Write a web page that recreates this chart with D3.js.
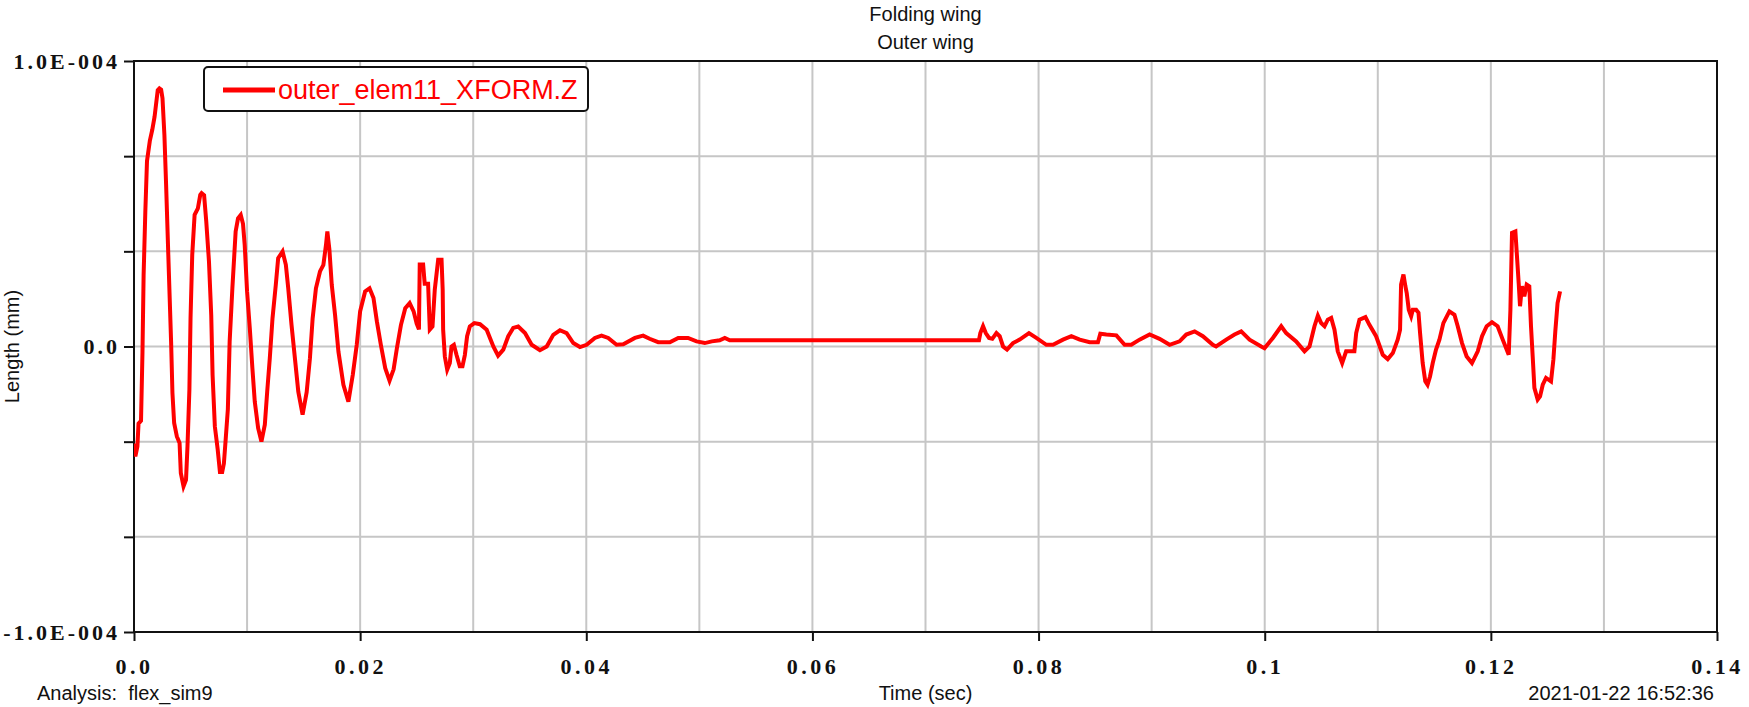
<!DOCTYPE html>
<html>
<head>
<meta charset="utf-8">
<script src="https://cdn.jsdelivr.net/npm/d3@7"></script>
<style>
  html, body { margin: 0; padding: 0; background: #ffffff; }
  svg { display: block; }
</style>
</head>
<body>
<svg id="chart" width="1749" height="707"></svg>
<script>
// ---- data (time in seconds, displacement in mm) ----
const seriesName = "outer_elem11_XFORM.Z";
const time = [
  0.00000, 0.00012, 0.00030, 0.00040, 0.00062, 0.00075, 0.00085, 0.00100, 0.00115, 0.00140,
  0.00162, 0.00182, 0.00210, 0.00225, 0.00240, 0.00252, 0.00269, 0.00284, 0.00308, 0.00328,
  0.00340, 0.00355, 0.00379, 0.00403, 0.00414, 0.00438, 0.00460, 0.00473, 0.00490, 0.00500,
  0.00515, 0.00536, 0.00565, 0.00586, 0.00598, 0.00620, 0.00639, 0.00663, 0.00683, 0.00695,
  0.00715, 0.00740, 0.00760, 0.00780, 0.00795, 0.00810, 0.00830, 0.00846, 0.00870, 0.00899,
  0.00920, 0.00944, 0.00964, 0.00979, 0.01000, 0.01024, 0.01047, 0.01068, 0.01098, 0.01127,
  0.01157, 0.01178, 0.01201, 0.01225, 0.01254, 0.01275, 0.01314, 0.01343, 0.01364, 0.01393,
  0.01423, 0.01453, 0.01491, 0.01527, 0.01556, 0.01580, 0.01609, 0.01645, 0.01675, 0.01698,
  0.01710, 0.01728, 0.01749, 0.01778, 0.01808, 0.01852, 0.01896, 0.01935, 0.01970, 0.02000,
  0.02044, 0.02083, 0.02118, 0.02148, 0.02183, 0.02222, 0.02260, 0.02296, 0.02325, 0.02361,
  0.02399, 0.02438, 0.02473, 0.02500, 0.02520, 0.02527, 0.02557, 0.02571, 0.02601, 0.02616,
  0.02640, 0.02660, 0.02690, 0.02720, 0.02730, 0.02734, 0.02749, 0.02770, 0.02793, 0.02808,
  0.02829, 0.02852, 0.02881, 0.02905, 0.02926, 0.02946, 0.02970, 0.03010, 0.03060, 0.03119,
  0.03178, 0.03220, 0.03266, 0.03310, 0.03354, 0.03398, 0.03458, 0.03517, 0.03590, 0.03650,
  0.03708, 0.03767, 0.03826, 0.03885, 0.03944, 0.04003, 0.04076, 0.04135, 0.04194, 0.04268,
  0.04327, 0.04430, 0.04503, 0.04560, 0.04636, 0.04739, 0.04813, 0.04900, 0.04975, 0.05048,
  0.05110, 0.05180, 0.05225, 0.05269, 0.07473, 0.07485, 0.07509, 0.07533, 0.07562, 0.07591,
  0.07627, 0.07656, 0.07686, 0.07721, 0.07774, 0.07833, 0.07915, 0.07980, 0.08069, 0.08128,
  0.08216, 0.08290, 0.08364, 0.08452, 0.08525, 0.08546, 0.08599, 0.08688, 0.08761, 0.08820,
  0.08893, 0.08982, 0.09070, 0.09159, 0.09247, 0.09306, 0.09380, 0.09453, 0.09541, 0.09570,
  0.09660, 0.09733, 0.09792, 0.09866, 0.09969, 0.09998, 0.10072, 0.10146, 0.10190, 0.10278,
  0.10352, 0.10396, 0.10440, 0.10470, 0.10499, 0.10529, 0.10558, 0.10588, 0.10617, 0.10646,
  0.10685, 0.10720, 0.10793, 0.10809, 0.10838, 0.10891, 0.10926, 0.10985, 0.11044, 0.11088,
  0.11133, 0.11176, 0.11197, 0.11206, 0.11227, 0.11244, 0.11256, 0.11274, 0.11295, 0.11310,
  0.11339, 0.11360, 0.11374, 0.11397, 0.11420, 0.11440, 0.11462, 0.11486, 0.11515, 0.11545,
  0.11580, 0.11633, 0.11678, 0.11707, 0.11745, 0.11786, 0.11833, 0.11884, 0.11922, 0.11963,
  0.12010, 0.12060, 0.12105, 0.12158, 0.12173, 0.12187, 0.12217, 0.12230, 0.12246, 0.12258,
  0.12275, 0.12296, 0.12317, 0.12340, 0.12355, 0.12370, 0.12385, 0.12414, 0.12435, 0.12459,
  0.12488, 0.12532, 0.12553, 0.12570, 0.12590, 0.12612
];
const displacement = [
  -3.40e-5, -3.85e-5, -3.50e-5, -2.70e-5, -2.60e-5, -0.20e-5, 2.50e-5, 4.70e-5, 6.50e-5, 7.20e-5,
  7.60e-5, 8.05e-5, 8.98e-5, 9.04e-5, 9.00e-5, 8.70e-5, 7.40e-5, 5.66e-5, 2.63e-5, 0.18e-5,
  -1.63e-5, -2.68e-5, -3.15e-5, -3.38e-5, -4.43e-5, -4.90e-5, -4.67e-5, -3.50e-5, -1.50e-5, 0.99e-5,
  3.21e-5, 4.61e-5, 4.84e-5, 5.31e-5, 5.37e-5, 5.30e-5, 4.38e-5, 2.98e-5, 1.11e-5, -1.00e-5,
  -2.80e-5, -3.60e-5, -4.40e-5, -4.40e-5, -4.10e-5, -3.30e-5, -2.20e-5, 0.18e-5, 2.04e-5, 4.03e-5,
  4.49e-5, 4.61e-5, 4.30e-5, 3.56e-5, 1.93e-5, 0.64e-5, -0.76e-5, -1.93e-5, -2.86e-5, -3.33e-5,
  -2.74e-5, -1.58e-5, -0.41e-5, 0.99e-5, 2.16e-5, 3.09e-5, 3.33e-5, 2.86e-5, 2.04e-5, 0.76e-5,
  -0.41e-5, -1.58e-5, -2.39e-5, -1.60e-5, -0.41e-5, 0.99e-5, 2.04e-5, 2.63e-5, 2.86e-5, 3.56e-5,
  4.03e-5, 3.40e-5, 2.16e-5, 1.11e-5, -0.18e-5, -1.34e-5, -1.93e-5, -0.99e-5, 0.06e-5, 1.23e-5,
  1.93e-5, 2.04e-5, 1.70e-5, 0.88e-5, 0.06e-5, -0.76e-5, -1.20e-5, -0.80e-5, -0.06e-5, 0.76e-5,
  1.34e-5, 1.52e-5, 1.23e-5, 0.80e-5, 0.60e-5, 2.87e-5, 2.87e-5, 2.20e-5, 2.20e-5, 0.59e-5,
  0.70e-5, 1.99e-5, 3.04e-5, 3.04e-5, 1.99e-5, 0.59e-5, -0.35e-5, -0.81e-5, -0.58e-5, 0.00e-5,
  0.06e-5, -0.29e-5, -0.69e-5, -0.69e-5, -0.30e-5, 0.36e-5, 0.70e-5, 0.82e-5, 0.78e-5, 0.59e-5,
  0.00e-5, -0.32e-5, -0.11e-5, 0.36e-5, 0.65e-5, 0.70e-5, 0.47e-5, 0.06e-5, -0.13e-5, 0.00e-5,
  0.41e-5, 0.57e-5, 0.47e-5, 0.12e-5, -0.02e-5, 0.06e-5, 0.30e-5, 0.38e-5, 0.30e-5, 0.06e-5,
  0.08e-5, 0.30e-5, 0.38e-5, 0.27e-5, 0.15e-5, 0.15e-5, 0.30e-5, 0.30e-5, 0.18e-5, 0.12e-5,
  0.18e-5, 0.22e-5, 0.30e-5, 0.22e-5, 0.22e-5, 0.47e-5, 0.71e-5, 0.47e-5, 0.30e-5, 0.27e-5,
  0.47e-5, 0.36e-5, 0.00e-5, -0.11e-5, 0.12e-5, 0.24e-5, 0.47e-5, 0.30e-5, 0.06e-5, 0.06e-5,
  0.24e-5, 0.36e-5, 0.24e-5, 0.15e-5, 0.15e-5, 0.45e-5, 0.42e-5, 0.39e-5, 0.06e-5, 0.06e-5,
  0.24e-5, 0.42e-5, 0.27e-5, 0.06e-5, 0.18e-5, 0.42e-5, 0.53e-5, 0.36e-5, 0.06e-5, 0.00e-5,
  0.24e-5, 0.42e-5, 0.53e-5, 0.24e-5, 0.00e-5, -0.06e-5, 0.30e-5, 0.71e-5, 0.47e-5, 0.18e-5,
  -0.17e-5, 0.00e-5, 0.71e-5, 1.08e-5, 0.82e-5, 0.71e-5, 0.94e-5, 1.00e-5, 0.59e-5, -0.17e-5,
  -0.58e-5, -0.17e-5, -0.17e-5, 0.47e-5, 0.94e-5, 1.03e-5, 0.76e-5, 0.36e-5, -0.29e-5, -0.44e-5,
  -0.23e-5, 0.24e-5, 0.59e-5, 2.17e-5, 2.52e-5, 2.11e-5, 1.87e-5, 1.29e-5, 1.06e-5, 1.29e-5,
  1.29e-5, 1.18e-5, 0.47e-5, -0.58e-5, -1.22e-5, -1.34e-5, -1.05e-5, -0.58e-5, -0.11e-5, 0.24e-5,
  0.82e-5, 1.23e-5, 1.11e-5, 0.71e-5, 0.12e-5, -0.35e-5, -0.58e-5, -0.17e-5, 0.36e-5, 0.71e-5,
  0.85e-5, 0.71e-5, 0.24e-5, -0.29e-5, 1.29e-5, 3.98e-5, 4.03e-5, 3.22e-5, 2.23e-5, 1.41e-5,
  2.11e-5, 1.76e-5, 2.17e-5, 2.11e-5, 0.71e-5, -0.35e-5, -1.45e-5, -1.86e-5, -1.75e-5, -1.34e-5,
  -1.10e-5, -1.22e-5, -0.46e-5, 0.53e-5, 1.52e-5, 1.93e-5
];

// axis definitions
const xDomain = [0, 0.14];
const yDomain = [-1.0e-4, 1.0e-4];
const xGridValues = [0.01, 0.02, 0.03, 0.04, 0.05, 0.06, 0.07, 0.08, 0.09, 0.10, 0.11, 0.12, 0.13];
const xTickValues = [0, 0.02, 0.04, 0.06, 0.08, 0.10, 0.12, 0.14];
const xTickLabels = ["0.0", "0.02", "0.04", "0.06", "0.08", "0.1", "0.12", "0.14"];
const yGridValues = [-6.6667e-5, -3.3333e-5, 0, 3.3333e-5, 6.6667e-5];
const yTickMarks = [-1.0e-4, -6.6667e-5, -3.3333e-5, 0, 3.3333e-5, 6.6667e-5, 1.0e-4];
const yTickValues = [-1.0e-4, 0, 1.0e-4];
const yTickLabels = ["-1.0E-004", "0.0", "1.0E-004"];

const titleLines = ["Folding wing", "Outer wing"];
const xAxisTitle = "Time (sec)";
const yAxisTitle = "Length (mm)";
const footerLeft = "Analysis:  flex_sim9";
const footerRight = "2021-01-22 16:52:36";

// ---- layout ----
const W = 1749, H = 707;
const plot = { left: 134, right: 1717, top: 61, bottom: 632 };
const svg = d3.select("#chart");

const x = d3.scaleLinear().domain(xDomain).range([plot.left, plot.right]);
const y = d3.scaleLinear().domain(yDomain).range([plot.bottom, plot.top]);

const sansFont = "'Liberation Sans', Arial, sans-serif";
const tickFont = "'Liberation Serif', 'Times New Roman', serif";

// grid
const grid = svg.append("g");
grid.selectAll("line.vx").data(xGridValues).enter().append("line")
  .attr("x1", d => x(d)).attr("x2", d => x(d))
  .attr("y1", plot.top).attr("y2", plot.bottom)
  .attr("stroke", "#c6c6c6").attr("stroke-width", 2);
grid.selectAll("line.hy").data(yGridValues).enter().append("line")
  .attr("y1", d => y(d)).attr("y2", d => y(d))
  .attr("x1", plot.left).attr("x2", plot.right)
  .attr("stroke", "#c6c6c6").attr("stroke-width", 2);

// frame
svg.append("rect")
  .attr("x", plot.left).attr("y", plot.top)
  .attr("width", plot.right - plot.left).attr("height", plot.bottom - plot.top)
  .attr("fill", "none").attr("stroke", "#111").attr("stroke-width", 2);

// x axis ticks + labels
const xAxis = d3.axisBottom(x)
  .tickValues(xTickValues)
  .tickFormat((d, i) => xTickLabels[i])
  .tickSize(9).tickPadding(17);
const gx = svg.append("g").attr("transform", `translate(0,${plot.bottom})`).call(xAxis);
gx.select(".domain").remove();
gx.selectAll(".tick line").attr("stroke", "#111").attr("stroke-width", 2);
gx.selectAll(".tick text")
  .attr("fill", "#111")
  .style("font-family", tickFont).style("font-size", "22px").style("font-weight", "bold")
  .style("letter-spacing", "3.5px");

// y axis tick marks (all grid levels)
const yMarks = d3.axisLeft(y).tickValues(yTickMarks).tickFormat("").tickSize(10);
const gyMarks = svg.append("g").attr("transform", `translate(${plot.left},0)`).call(yMarks);
gyMarks.select(".domain").remove();
gyMarks.selectAll(".tick line").attr("stroke", "#111").attr("stroke-width", 2);

// y labels
const yAxis = d3.axisLeft(y)
  .tickValues(yTickValues)
  .tickFormat((d, i) => yTickLabels[i])
  .tickSize(0).tickPadding(14);
const gy = svg.append("g").attr("transform", `translate(${plot.left},0)`).call(yAxis);
gy.select(".domain").remove();
gy.selectAll(".tick text")
  .attr("fill", "#111")
  .style("font-family", tickFont).style("font-size", "22px").style("font-weight", "bold")
  .style("letter-spacing", "3px");

// data line
const pts = time.map((t, i) => [t, displacement[i]]);
const clipId = "plotclip";
svg.append("clipPath").attr("id", clipId).append("rect")
  .attr("x", plot.left).attr("y", plot.top)
  .attr("width", plot.right - plot.left).attr("height", plot.bottom - plot.top);
svg.append("path")
  .datum(pts)
  .attr("clip-path", `url(#${clipId})`)
  .attr("fill", "none")
  .attr("stroke", "#ff0000")
  .attr("stroke-width", 4)
  .attr("stroke-linejoin", "miter")
  .attr("d", d3.line().x(d => x(d[0])).y(d => y(d[1])));

// legend
const lg = svg.append("g");
lg.append("rect")
  .attr("x", 204).attr("y", 67).attr("width", 384).attr("height", 44)
  .attr("rx", 4).attr("ry", 4)
  .attr("fill", "#fff").attr("stroke", "#111").attr("stroke-width", 2);
lg.append("line")
  .attr("x1", 223).attr("x2", 275).attr("y1", 90).attr("y2", 90)
  .attr("stroke", "#ff0000").attr("stroke-width", 5);
lg.append("text")
  .attr("x", 278).attr("y", 99)
  .attr("fill", "#ff0000")
  .style("font-family", sansFont).style("font-size", "27px")
  .text(seriesName);

// titles
const cx = (plot.left + plot.right) / 2;
svg.selectAll("text.title").data(titleLines).enter().append("text")
  .attr("class", "title")
  .attr("x", cx).attr("y", (d, i) => 21 + i * 28)
  .attr("text-anchor", "middle")
  .attr("fill", "#111")
  .style("font-family", sansFont).style("font-size", "20px")
  .text(d => d);

// axis titles
svg.append("text")
  .attr("transform", `translate(19,${(plot.top + plot.bottom) / 2}) rotate(-90)`)
  .attr("text-anchor", "middle")
  .attr("fill", "#111")
  .style("font-family", sansFont).style("font-size", "20px")
  .text(yAxisTitle);
svg.append("text")
  .attr("x", cx).attr("y", 700)
  .attr("text-anchor", "middle")
  .attr("fill", "#111")
  .style("font-family", sansFont).style("font-size", "20px")
  .text(xAxisTitle);

// footers
svg.append("text")
  .attr("x", 37).attr("y", 700)
  .attr("fill", "#111")
  .style("font-family", sansFont).style("font-size", "20px")
  .style("white-space", "pre")
  .text(footerLeft);
svg.append("text")
  .attr("x", 1714).attr("y", 700)
  .attr("text-anchor", "end")
  .attr("fill", "#111")
  .style("font-family", sansFont).style("font-size", "20px")
  .text(footerRight);
</script>
</body>
</html>
